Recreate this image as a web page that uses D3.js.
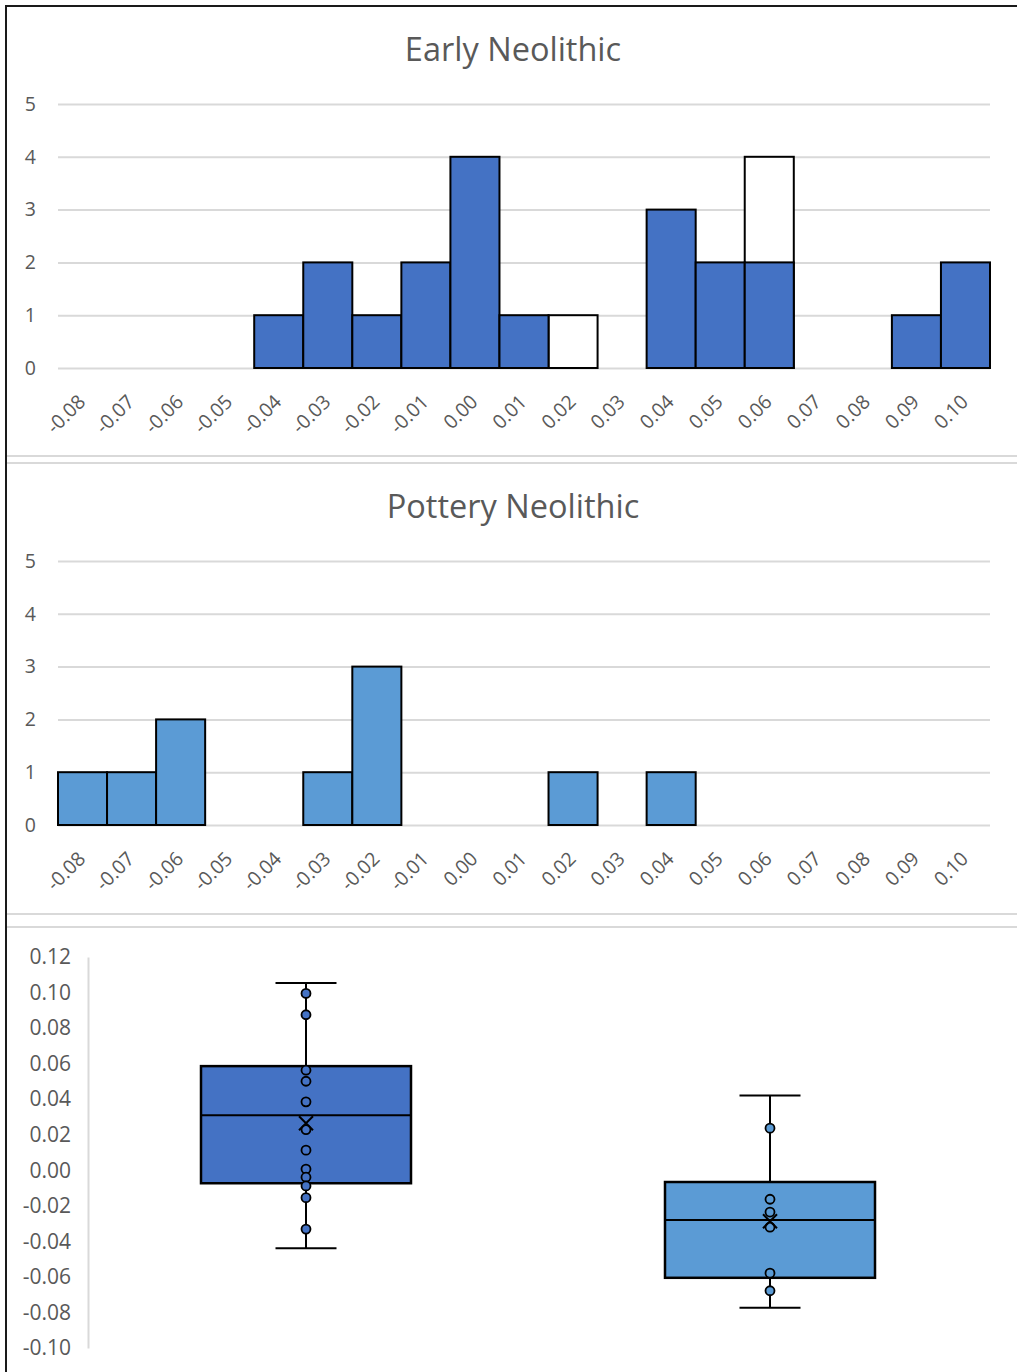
<!DOCTYPE html>
<html>
<head>
<meta charset="utf-8">
<script src="https://cdn.jsdelivr.net/npm/d3@7"></script>
<style>
	body { margin: 0; background: #fff; }
	svg { display: block; }
	text { font-family: "Open Sans", sans-serif; fill: #595959; }
</style>
</head>
<body>
<svg></svg>
<script>
// histogram bins (category labels on x)
const bins = ["-0.08", "-0.07", "-0.06", "-0.05", "-0.04", "-0.03", "-0.02", "-0.01", "0.00", "0.01",
	"0.02", "0.03", "0.04", "0.05", "0.06", "0.07", "0.08", "0.09", "0.10"]

// counts per bin
const earlyCounts = [0, 0, 0, 0, 1, 2, 1, 2, 4, 1, 0, 0, 3, 2, 2, 0, 0, 1, 2]
const earlyWhite = [0, 0, 0, 0, 0, 0, 0, 0, 0, 0, 1, 0, 0, 0, 4, 0, 0, 0, 0] // outlined bars behind
const potteryCounts = [1, 1, 2, 0, 0, 1, 3, 0, 0, 0, 1, 0, 1, 0, 0, 0, 0, 0, 0]
const potteryWhite = [0, 0, 0, 0, 0, 0, 0, 0, 0, 0, 0, 0, 0, 0, 0, 0, 0, 0, 0]
const countTicks = [0, 1, 2, 3, 4, 5]

// box plot
const groups = ["Early Neolithic", "Pottery Neolithic"]
const boxMin = [-0.0439, -0.0774]
const boxQ1 = [-0.0073, -0.0605]
const boxMedian = [0.031, -0.028]
const boxQ3 = [0.0586, -0.0066]
const boxMax = [0.1054, 0.0421]
const boxMean = [0.0265, -0.0287]
const earlyPoints = [0.0995, 0.0875, 0.0563, 0.0501, 0.0385, 0.0229, 0.0113, 0.0007, -0.0039, -0.0088, -0.0154, -0.0331]
const potteryPoints = [0.0237, -0.0163, -0.0235, -0.032, -0.0579, -0.0678]
const boxTicks = [-0.10, -0.08, -0.06, -0.04, -0.02, 0.00, 0.02, 0.04, 0.06, 0.08, 0.10, 0.12]

const darkBlue = "#4472c4"
const lightBlue = "#5b9bd5"
const gridColor = "#d9d9d9"

const svg = d3.select("svg")
	.attr("width", 1017)
	.attr("height", 1372)

// outer frame (left + top) and panel separators
svg.append("line").attr("x1", 6).attr("x2", 6).attr("y1", 5).attr("y2", 1372)
	.attr("stroke", "#1a1a1a").attr("stroke-width", 2)
svg.append("line").attr("x1", 5).attr("x2", 1017).attr("y1", 6).attr("y2", 6)
	.attr("stroke", "#1a1a1a").attr("stroke-width", 2)

svg.selectAll("line.sep")
	.data([456, 463, 914, 927])
	.enter()
	.append("line")
	.attr("class", "sep")
	.attr("x1", 7)
	.attr("x2", 1017)
	.attr("y1", d => d)
	.attr("y2", d => d)
	.attr("stroke", gridColor)
	.attr("stroke-width", 2)

const xScale = d3.scaleBand()
	.domain(bins)
	.range([58, 990])

function histogram(title, titleY, baseY, counts, white, color) {
	const g = svg.append("g")

	const yScale = d3.scaleLinear()
		.domain([0, 5])
		.range([baseY, baseY - 264])

	g.append("text")
		.attr("x", 513)
		.attr("y", titleY)
		.attr("text-anchor", "middle")
		.style("font-size", "32.5px")
		.text(title)

	const yAxis = g.append("g")
		.attr("transform", "translate(58, 0)")
		.call(d3.axisLeft(yScale).tickValues(countTicks).tickSize(-932).tickPadding(22).tickFormat(d3.format("d")))
	yAxis.select(".domain").remove()
	yAxis.selectAll(".tick line").attr("stroke", gridColor).attr("stroke-width", 2)
	yAxis.selectAll(".tick text").style("font-size", "19.5px").attr("fill", "#595959")

	// outlined (white) bars go behind the coloured ones
	const layers = [{ vals: white, fill: "#fff" }, { vals: counts, fill: color }]
	layers.forEach(layer => {
		g.selectAll(null)
			.data(bins.map((b, i) => ({ bin: b, v: layer.vals[i] })).filter(d => d.v > 0))
			.enter()
			.append("rect")
			.attr("x", d => xScale(d.bin))
			.attr("y", d => yScale(d.v))
			.attr("width", xScale.bandwidth())
			.attr("height", d => yScale(0) - yScale(d.v))
			.attr("fill", layer.fill)
			.attr("stroke", "#000")
			.attr("stroke-width", 2)
	})

	// rotated category labels
	g.selectAll("text.bin")
		.data(bins)
		.enter()
		.append("text")
		.attr("class", "bin")
		.attr("text-anchor", "end")
		.style("font-size", "19.5px")
		.attr("transform", d => `translate(${xScale(d) + xScale.bandwidth() / 2 + 4}, ${baseY + 35}) rotate(-45)`)
		.text(d => d)
}

histogram("Early Neolithic", 61, 368, earlyCounts, earlyWhite, darkBlue)
histogram("Pottery Neolithic", 518, 825, potteryCounts, potteryWhite, lightBlue)

// ---- box and whisker ----
const boxY = d3.scaleLinear()
	.domain([-0.10, 0.12])
	.range([1348, 957])

const boxX = d3.scaleBand()
	.domain(groups)
	.range([74, 1002])

const boxAxis = svg.append("g")
	.attr("transform", "translate(88, 0)")
	.call(d3.axisLeft(boxY).tickValues(boxTicks).tickSize(0).tickPadding(17).tickFormat(d => d.toFixed(2)))
boxAxis.select(".domain").attr("stroke", gridColor).attr("stroke-width", 2)
boxAxis.selectAll(".tick text").style("font-size", "21px").attr("fill", "#595959")

const boxData = groups.map((name, i) => ({
	name: name,
	min: boxMin[i], q1: boxQ1[i], median: boxMedian[i], q3: boxQ3[i], max: boxMax[i], mean: boxMean[i],
	points: i === 0 ? earlyPoints : potteryPoints,
	color: i === 0 ? darkBlue : lightBlue
}))

const boxWidth = boxX.bandwidth() * 0.4526
const capHalf = 30.5

const boxes = svg.selectAll("g.box")
	.data(boxData)
	.enter()
	.append("g")
	.attr("class", "box")
	.attr("transform", d => `translate(${boxX(d.name) + boxX.bandwidth() / 2}, 0)`)

// whisker stems and caps
boxes.append("line")
	.attr("x1", 0).attr("x2", 0)
	.attr("y1", d => boxY(d.max))
	.attr("y2", d => boxY(d.min))
	.attr("stroke", "#000").attr("stroke-width", 2)

boxes.selectAll("line.cap")
	.data(d => [d.min, d.max])
	.enter()
	.append("line")
	.attr("class", "cap")
	.attr("x1", -capHalf).attr("x2", capHalf)
	.attr("y1", d => boxY(d)).attr("y2", d => boxY(d))
	.attr("stroke", "#000").attr("stroke-width", 2)

boxes.append("rect")
	.attr("x", -boxWidth / 2)
	.attr("width", boxWidth)
	.attr("y", d => boxY(d.q3))
	.attr("height", d => boxY(d.q1) - boxY(d.q3))
	.attr("fill", d => d.color)
	.attr("stroke", "#000")
	.attr("stroke-width", 2.5)

boxes.append("line")
	.attr("x1", -boxWidth / 2).attr("x2", boxWidth / 2)
	.attr("y1", d => boxY(d.median)).attr("y2", d => boxY(d.median))
	.attr("stroke", "#000").attr("stroke-width", 2)

// inner points
boxes.selectAll("circle")
	.data(d => d.points.map(p => ({ v: p, color: d.color })))
	.enter()
	.append("circle")
	.attr("cx", 0)
	.attr("cy", d => boxY(d.v))
	.attr("r", 4.5)
	.attr("fill", d => d.color)
	.attr("stroke", "#000")
	.attr("stroke-width", 1.8)

// mean marker (x)
boxes.append("path")
	.attr("d", d => {
		const y = boxY(d.mean)
		return `M-7,${y - 7}L7,${y + 7}M-7,${y + 7}L7,${y - 7}`
	})
	.attr("stroke", "#000")
	.attr("stroke-width", 2)
	.attr("fill", "none")
</script>
</body>
</html>
